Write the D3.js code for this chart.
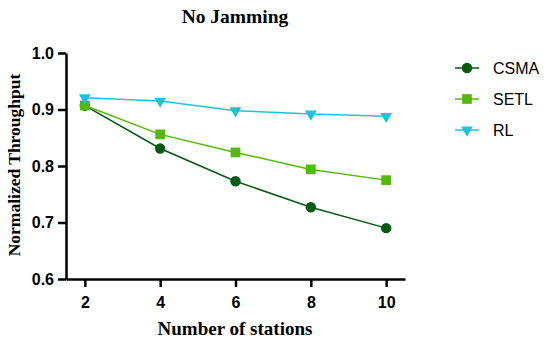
<!DOCTYPE html>
<html>
<head>
<meta charset="utf-8">
<script src="https://cdn.jsdelivr.net/npm/d3@7"></script>
<style>
body { margin: 0; background: #fff; }
</style>
</head>
<body>
<svg width="550" height="339"></svg>
<script>
// Chart data

var stations = [2, 4, 6, 8, 10];
var csma = [0.907, 0.831, 0.773, 0.727, 0.690];
var setl = [0.907, 0.856, 0.824, 0.794, 0.775];
var rl = [0.921, 0.915, 0.898, 0.892, 0.888];
var seriesNames = ['CSMA', 'SETL', 'RL'];
var yTicks = [0.6, 0.7, 0.8, 0.9, 1.0];

var svg = d3.select('svg');

var x = d3.scaleLinear().domain([1.5, 10.5]).range([66, 405]);
var y = d3.scaleLinear().domain([0.6, 1.0]).range([279, 53]);

var series = [
  {name: seriesNames[0], values: csma, color: '#035a12', shape: d3.symbolCircle, size: 85},
  {name: seriesNames[1], values: setl, color: '#55b90c', shape: d3.symbolSquare, size: 95},
  {name: seriesNames[2], values: rl, color: '#1cc3dc', shape: d3.symbolTriangle, size: 60}
];

// Axes

var xAxis = svg.append('g')
  .attr('transform', 'translate(0,279)')
  .call(d3.axisBottom(x).tickValues(stations).tickSize(8).tickSizeOuter(0).tickPadding(10));

var yAxis = svg.append('g')
  .attr('transform', 'translate(66,0)')
  .call(d3.axisLeft(y).tickValues(yTicks).tickFormat(d3.format('.1f')).tickSize(8).tickSizeOuter(0).tickPadding(4));

[xAxis, yAxis].forEach(function(a) {
  a.select('.domain').attr('stroke', '#000').attr('stroke-width', 2.5);
  a.selectAll('.tick line').attr('stroke', '#000').attr('stroke-width', 2.5);
  a.selectAll('.tick text')
    .attr('fill', '#000')
    .style('font-family', 'Liberation Sans, Arial, sans-serif')
    .style('font-weight', 'bold')
    .style('font-size', '16px');
});

// Lines and markers

var line = d3.line()
  .x(function(d, i) { return x(stations[i]); })
  .y(function(d) { return y(d); });

series.forEach(function(s) {
  svg.append('path')
    .datum(s.values)
    .attr('fill', 'none')
    .attr('stroke', s.color)
    .attr('stroke-width', 1.5)
    .attr('d', line);

  svg.append('g').selectAll('path')
    .data(s.values)
    .enter().append('path')
    .attr('transform', function(d, i) {
      var r = s.shape === d3.symbolTriangle ? ' rotate(180)' : '';
      return 'translate(' + x(stations[i]) + ',' + y(d) + ')' + r;
    })
    .attr('d', d3.symbol().type(s.shape).size(s.size))
    .attr('fill', s.color);
});

// Titles

svg.append('text')
  .attr('x', 235).attr('y', 23)
  .attr('text-anchor', 'middle')
  .style('font-family', 'Liberation Serif, Times New Roman, serif')
  .style('font-weight', 'bold')
  .style('font-size', '19.5px')
  .text('No Jamming');

svg.append('text')
  .attr('x', 235).attr('y', 335)
  .attr('text-anchor', 'middle')
  .style('font-family', 'Liberation Serif, Times New Roman, serif')
  .style('font-weight', 'bold')
  .style('font-size', '19px')
  .text('Number of stations');

svg.append('text')
  .attr('transform', 'translate(20,165) rotate(-90)')
  .attr('text-anchor', 'middle')
  .style('font-family', 'Liberation Serif, Times New Roman, serif')
  .style('font-weight', 'bold')
  .style('font-size', '17.5px')
  .text('Normalized Throughput');

// Legend

var legend = svg.append('g').selectAll('g')
  .data(series)
  .enter().append('g')
  .attr('transform', function(d, i) { return 'translate(0,' + (68 + i * 31) + ')'; });

legend.append('line')
  .attr('x1', 455).attr('x2', 479)
  .attr('stroke', function(d) { return d.color; })
  .attr('stroke-width', 1.5);

legend.append('path')
  .attr('transform', function(d) {
    return 'translate(467,0)' + (d.shape === d3.symbolTriangle ? ' rotate(180)' : '');
  })
  .attr('d', function(d) { return d3.symbol().type(d.shape).size(d.size)(); })
  .attr('fill', function(d) { return d.color; });

legend.append('text')
  .attr('x', 493).attr('dy', '0.35em')
  .style('font-family', 'Liberation Sans, Arial, sans-serif')
  .style('font-size', '16px')
  .text(function(d) { return d.name; });
</script>
</body>
</html>
